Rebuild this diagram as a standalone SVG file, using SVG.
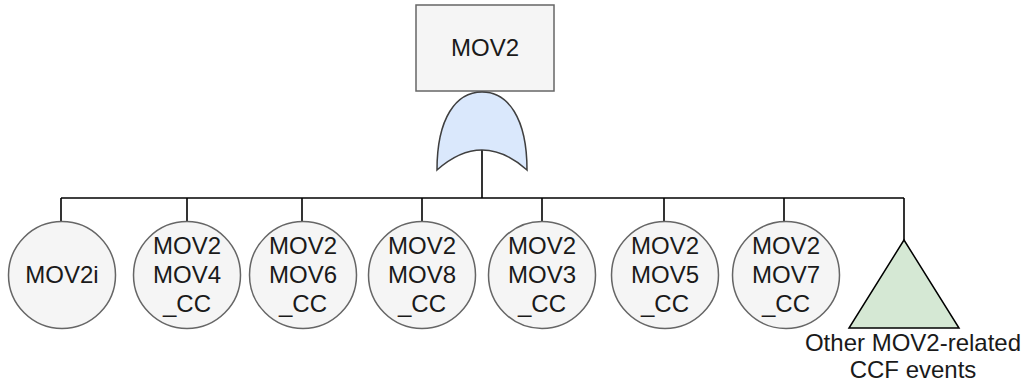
<svg xmlns="http://www.w3.org/2000/svg" width="1027" height="387" viewBox="0 0 1027 387">
  <style>
    .lbl { font-family: "Liberation Sans", Arial, sans-serif; font-size: 24px; fill: #1a1a1a; text-anchor: middle; }
    .event { fill: #f5f5f5; stroke: #666666; stroke-width: 1.5; }
    .wire { fill: none; stroke: #000000; stroke-width: 1.6; }
  </style>
  <rect width="1027" height="387" fill="#ffffff"/>

  <!-- connectors -->
  <g id="connectors" class="wire">
    <line x1="482" y1="150" x2="482" y2="198"/>
    <line x1="61" y1="198" x2="904" y2="198"/>
    <line x1="61" y1="198" x2="61" y2="221"/>
    <line x1="187" y1="198" x2="187" y2="222"/>
    <line x1="302" y1="198" x2="302" y2="222"/>
    <line x1="422" y1="198" x2="422" y2="222"/>
    <line x1="542" y1="198" x2="542" y2="222"/>
    <line x1="664" y1="198" x2="664" y2="222"/>
    <line x1="784" y1="198" x2="784" y2="222"/>
    <line x1="904" y1="198" x2="904" y2="240"/>
  </g>

  <!-- top event -->
  <g id="top-event">
    <rect x="416" y="5" width="138" height="86" class="event"/>
    <text x="485" y="56" class="lbl">MOV2</text>
  </g>

  <!-- OR gate -->
  <g id="or-gate">
    <path d="M 437 170 C 437 118 456 92 482 92 C 508 92 527 118 527 170 Q 482 130 437 170 Z" fill="#dae8fc" stroke="#3f3f3f" stroke-width="1.5"/>
  </g>

  <!-- basic events -->
  <g id="mov2i">
    <circle cx="62" cy="275" r="53.5" class="event"/>
    <text x="62" y="283" class="lbl">MOV2i</text>
  </g>
  <g id="mov2-mov4-cc">
    <circle cx="187" cy="275" r="53.5" class="event"/>
    <text class="lbl"><tspan x="187" y="254">MOV2</tspan><tspan x="187" y="283">MOV4</tspan><tspan x="187" y="312">_CC</tspan></text>
  </g>
  <g id="mov2-mov6-cc">
    <circle cx="303" cy="275" r="53.5" class="event"/>
    <text class="lbl"><tspan x="303" y="254">MOV2</tspan><tspan x="303" y="283">MOV6</tspan><tspan x="303" y="312">_CC</tspan></text>
  </g>
  <g id="mov2-mov8-cc">
    <circle cx="422" cy="275" r="53.5" class="event"/>
    <text class="lbl"><tspan x="422" y="254">MOV2</tspan><tspan x="422" y="283">MOV8</tspan><tspan x="422" y="312">_CC</tspan></text>
  </g>
  <g id="mov2-mov3-cc">
    <circle cx="542" cy="275" r="53.5" class="event"/>
    <text class="lbl"><tspan x="542" y="254">MOV2</tspan><tspan x="542" y="283">MOV3</tspan><tspan x="542" y="312">_CC</tspan></text>
  </g>
  <g id="mov2-mov5-cc">
    <circle cx="665" cy="275" r="53.5" class="event"/>
    <text class="lbl"><tspan x="665" y="254">MOV2</tspan><tspan x="665" y="283">MOV5</tspan><tspan x="665" y="312">_CC</tspan></text>
  </g>
  <g id="mov2-mov7-cc">
    <circle cx="786" cy="275" r="53.5" class="event"/>
    <text class="lbl"><tspan x="786" y="254">MOV2</tspan><tspan x="786" y="283">MOV7</tspan><tspan x="786" y="312">_CC</tspan></text>
  </g>

  <!-- transfer to other CCF events -->
  <g id="other-ccf">
    <polygon points="904,240 849,328 959,328" fill="#d5e8d4" stroke="#000000" stroke-width="1.5" stroke-linejoin="miter"/>
    <text class="lbl"><tspan x="913" y="351">Other MOV2-related</tspan><tspan x="913" y="378">CCF events</tspan></text>
  </g>
</svg>
